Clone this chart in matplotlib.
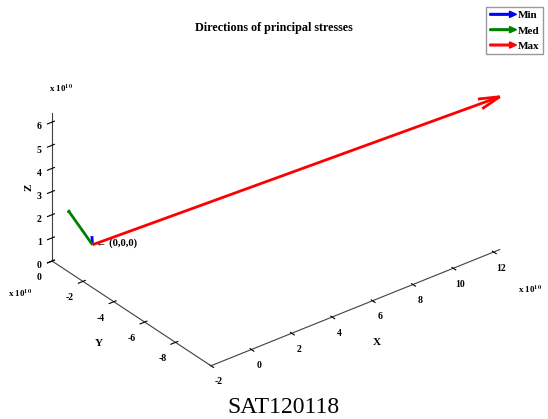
import matplotlib
matplotlib.use("Agg")
import matplotlib.pyplot as plt
from matplotlib.patches import FancyArrow
from matplotlib.legend_handler import HandlerPatch

# principal stress directions (units of 1e10), all starting at the origin
labels = ["Min", "Med", "Max"]
colors = ["blue", "green", "red"]
u = [0.05, -1.2, 12.3]
v = [0.1, 0.0, -10.3]
w = [0.3, 1.9, 6.6]

x_ticks = [-2, 0, 2, 4, 6, 8, 10, 12]
y_ticks = [0, -2, -4, -6, -8]
z_ticks = [0, 1, 2, 3, 4, 5, 6]

SERIF = ["Liberation Serif", "DejaVu Serif"]
plt.rcParams["font.family"] = SERIF
plt.rcParams["font.weight"] = "bold"
plt.rcParams["axes.unicode_minus"] = False
plt.rcParams["mathtext.fontset"] = "stix"


def arrow_handle(legend, orig_handle, xdescent, ydescent, width, height, fontsize):
    return FancyArrow(-xdescent, height / 2 - ydescent, width, 0,
                      width=1.2, head_width=4.5, head_length=5,
                      length_includes_head=True, color=orig_handle.get_facecolor())


fig = plt.figure(figsize=(5.48, 4.19), dpi=100)
# oversized axes rect so the projected box fills the figure like the original
ax = fig.add_axes([-0.163, -0.004, 1.31, 1.113], projection="3d")
ax.set_proj_type("ortho")
ax.view_init(elev=31, azim=-128)
ax.set_box_aspect((1.42, 1.0, 0.67))

for i in range(len(labels)):
    q = ax.quiver(0, 0, 0, u[i], v[i], w[i], color=colors[i], linewidth=2,
                  arrow_length_ratio=0.05)
    q.set_clip_on(False)

ax.text(0.15, 0, -0.1, "\u2190 (0,0,0)", fontsize=7.6, fontweight="bold",
        family=SERIF + ["DejaVu Sans"])

ax.set_xlim(-2, 12.3)
ax.set_ylim(-10.3, 0)
ax.set_zlim(0, 6.4)
ax.set_xticks(x_ticks)
ax.set_yticks(y_ticks)
ax.set_zticks(z_ticks)
ax.tick_params(labelsize=7, pad=0)
ax.zaxis.set_tick_params(pad=-3)

for axis in (ax.xaxis, ax.yaxis, ax.zaxis):
    axis.set_pane_color((1, 1, 1, 0))
    axis.pane.set_edgecolor((1, 1, 1, 0))
    axis.line.set_color("#404040")
    axis.line.set_linewidth(0.8)
    axis.get_offset_text().set_visible(False)
    for lbl in axis.get_ticklabels():
        lbl.set_fontweight("bold")
ax.grid(False)

ax.zaxis.set_rotate_label(False)
ax.set_xlabel("X", fontsize=8, fontweight="bold", labelpad=3)
ax.set_ylabel("Y", fontsize=8, fontweight="bold", labelpad=-1)
ax.set_zlabel("Z", fontsize=8, fontweight="bold", labelpad=-12, rotation=90)

fig.text(0.5, 0.925, "Directions of principal stresses", ha="center",
         fontsize=8.7, fontweight="bold")
fig.text(0.09, 0.78, r"x 10$^{10}$", ha="left", fontsize=6.5, fontweight="bold")
fig.text(0.015, 0.29, r"x 10$^{10}$", ha="left", fontsize=6.5, fontweight="bold")
fig.text(0.945, 0.30, r"x 10$^{10}$", ha="left", fontsize=6.5, fontweight="bold")
fig.text(0.517, 0.015, "SAT120118", ha="center", fontsize=17, fontweight="normal")

handles = [FancyArrow(0, 0, 1, 0, color=c) for c in colors]
leg = fig.legend(handles, labels, loc="upper right", bbox_to_anchor=(0.99, 0.983),
                 fontsize=8, handlelength=2.4, handletextpad=0.1, labelspacing=0.5,
                 borderpad=0.3, borderaxespad=0, fancybox=False, edgecolor="#808080",
                 handler_map={FancyArrow: HandlerPatch(patch_func=arrow_handle)})
for t in leg.get_texts():
    t.set_fontweight("bold")

fig.savefig("out.png", dpi=100)
